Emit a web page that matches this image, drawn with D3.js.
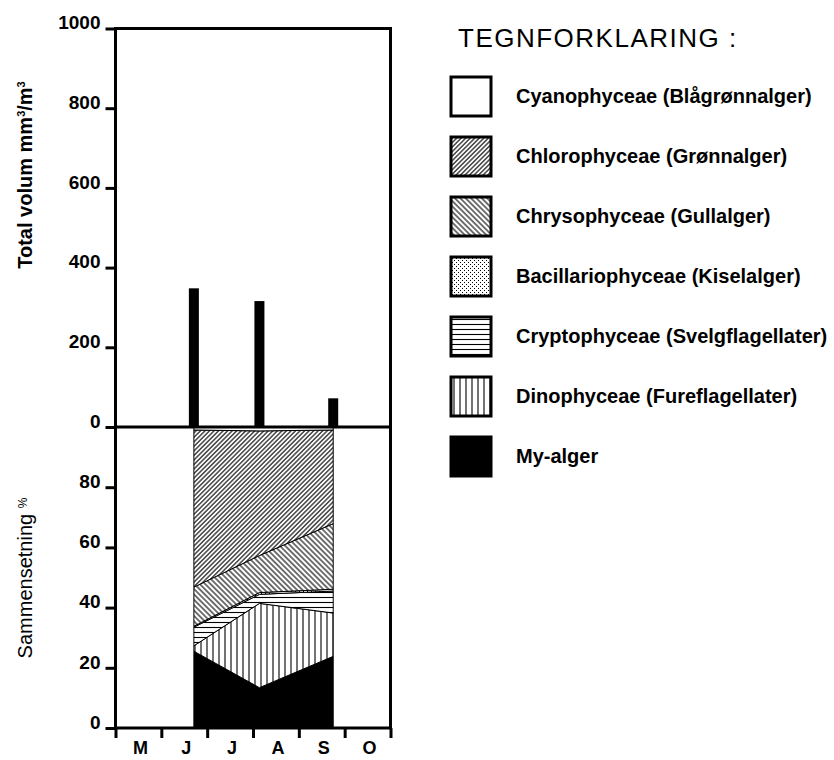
<!DOCTYPE html>
<html>
<head>
<meta charset="utf-8">
<script src="https://cdn.jsdelivr.net/npm/d3@7"></script>
<style>
  body { margin: 0; background: #fff; }
  svg { font-family: 'Liberation Sans', Arial, sans-serif; }
</style>
</head>
<body>
<svg id="chart" width="834" height="760"></svg>
<script>
// months on the x axis (May - Oct)
const months = ['M', 'J', 'J', 'A', 'S', 'O'];
// sample dates as months since 1 May
const sampleMonth = [1.71, 3.14, 4.75];
// total volume mm3/m3
const totalVolume = [348, 316, 72];
const volTicks = [0, 200, 400, 600, 800, 1000];
const pctTicks = [0, 20, 40, 60, 80];

// composition in %, bottom to top
const myAlger = [25.5, 13.4, 23.8];
const dino = [1.8, 28.0, 14.4];
const crypto = [6.2, 3.0, 7.3];
const bacil = [0.3, 0.6, 0.6];
const chryso = [13.0, 12.3, 21.8];
const chloro = [52.2, 41.4, 31.1];
const cyano = [1.0, 1.3, 1.0];

const legendLabels = [
  'Cyanophyceae (Blågrønnalger)',
  'Chlorophyceae (Grønnalger)',
  'Chrysophyceae (Gullalger)',
  'Bacillariophyceae (Kiselalger)',
  'Cryptophyceae (Svelgflagellater)',
  'Dinophyceae (Fureflagellater)',
  'My-alger'
];
const legendFills = ['#fff', 'url(#p-chloro)', 'url(#p-chryso)', 'url(#p-bacil)', 'url(#p-crypto)', 'url(#p-dino)', '#000'];

const keys = ['my', 'dino', 'crypto', 'bacil', 'chryso', 'chloro', 'cyano'];
const fills = {
  my: '#000', dino: 'url(#p-dino)', crypto: 'url(#p-crypto)', bacil: 'url(#p-bacil)',
  chryso: 'url(#p-chryso)', chloro: 'url(#p-chloro)', cyano: '#fff'
};
const rows = sampleMonth.map((m, i) => ({
  m, my: myAlger[i], dino: dino[i], crypto: crypto[i], bacil: bacil[i],
  chryso: chryso[i], chloro: chloro[i], cyano: cyano[i]
}));

const svg = d3.select('#chart');

// hatch patterns
const defs = svg.append('defs');
const hatch = (id, size, angle, horizontal) => {
  const p = defs.append('pattern')
    .attr('id', id)
    .attr('patternUnits', 'userSpaceOnUse')
    .attr('width', size)
    .attr('height', size)
    .attr('patternTransform', `rotate(${angle})`);
  p.append('rect').attr('width', size).attr('height', size).attr('fill', '#fff');
  if (horizontal) {
    p.append('line').attr('x1', 0).attr('x2', size).attr('y1', size / 2).attr('y2', size / 2)
      .attr('stroke', '#000').attr('stroke-width', 1.1);
  } else {
    p.append('line').attr('x1', size / 2).attr('x2', size / 2).attr('y1', 0).attr('y2', size)
      .attr('stroke', '#000').attr('stroke-width', 1.1);
  }
};
hatch('p-chloro', 3.2, 45, false);
hatch('p-chryso', 3.8, -45, false);
hatch('p-crypto', 5, 0, true);
hatch('p-dino', 6, 0, false);
const dots = defs.append('pattern')
  .attr('id', 'p-bacil')
  .attr('patternUnits', 'userSpaceOnUse')
  .attr('width', 4)
  .attr('height', 4);
dots.append('rect').attr('width', 4).attr('height', 4).attr('fill', '#fff');
dots.append('rect').attr('x', 1).attr('y', 1).attr('width', 1).attr('height', 1).attr('fill', '#000');
dots.append('rect').attr('x', 3).attr('y', 3).attr('width', 1).attr('height', 1).attr('fill', '#000');

// scales
const x = d3.scaleLinear().domain([0, 6]).range([115.5, 390.5]);
const yVol = d3.scaleLinear().domain([0, 1000]).range([427, 28.5]);
const yPct = d3.scaleLinear().domain([0, 100]).range([728, 427]);

// stacked composition
const stack = d3.stack().keys(keys)(rows);
const area = d3.area()
  .x((d) => x(d.data.m))
  .y0((d) => yPct(d[0]))
  .y1((d) => yPct(d[1]));

svg.append('g')
  .selectAll('path')
  .data(stack)
  .enter()
  .append('path')
  .attr('d', area)
  .attr('fill', (d) => fills[d.key])
  .attr('stroke', '#000')
  .attr('stroke-width', 1);

// volume bars
svg.append('g')
  .selectAll('rect')
  .data(totalVolume)
  .enter()
  .append('rect')
  .attr('x', (_, i) => x(sampleMonth[i]) - 5)
  .attr('y', (d) => yVol(d))
  .attr('width', 10)
  .attr('height', (d) => yVol(0) - yVol(d))
  .attr('fill', '#000');

// frame
svg.append('rect')
  .attr('x', x(0)).attr('y', yVol(1000))
  .attr('width', x(6) - x(0)).attr('height', yPct(0) - yVol(1000))
  .attr('fill', 'none').attr('stroke', '#000').attr('stroke-width', 3);
svg.append('line')
  .attr('x1', x(0)).attr('x2', x(6)).attr('y1', yVol(0)).attr('y2', yVol(0))
  .attr('stroke', '#000').attr('stroke-width', 3);

// y axes
const styleAxis = (g) => {
  g.select('path.domain').remove();
  g.selectAll('line').attr('stroke', '#000').attr('stroke-width', 3);
  g.selectAll('text')
    .attr('fill', '#000')
    .attr('dy', '0.02em')
    .style('font-size', '19px')
    .style('font-weight', 'bold');
};
svg.append('g')
  .attr('transform', `translate(${x(0)},0)`)
  .call(d3.axisLeft(yVol).tickValues(volTicks).tickSize(10).tickPadding(5).tickFormat(d3.format('d')))
  .call(styleAxis);
svg.append('g')
  .attr('transform', `translate(${x(0)},0)`)
  .call(d3.axisLeft(yPct).tickValues(pctTicks).tickSize(10).tickPadding(5))
  .call(styleAxis);

// x axis: month boundaries, labels in between
const xAxis = svg.append('g')
  .attr('transform', `translate(0,${yPct(0)})`)
  .call(d3.axisBottom(x).tickValues(d3.range(7)).tickSize(10).tickFormat(''));
xAxis.select('path.domain').remove();
xAxis.selectAll('line').attr('stroke', '#000').attr('stroke-width', 3);

svg.append('g')
  .selectAll('text')
  .data(months)
  .enter()
  .append('text')
  .attr('x', (_, i) => x(i + 0.5) + 2)
  .attr('y', 754)
  .attr('text-anchor', 'middle')
  .style('font-size', '18px')
  .style('font-weight', 'bold')
  .text((d) => d);

// axis titles
const t1 = svg.append('text')
  .attr('transform', 'translate(32,175) rotate(-90)')
  .attr('text-anchor', 'middle')
  .style('font-size', '20px')
  .style('font-weight', 'bold');
t1.append('tspan').text('Total volum mm');
t1.append('tspan').attr('dy', -7).style('font-size', '11px').text('3');
t1.append('tspan').attr('dy', 7).text('/m');
t1.append('tspan').attr('dy', -7).style('font-size', '11px').text('3');

const t2 = svg.append('text')
  .attr('transform', 'translate(32,578) rotate(-90)')
  .attr('text-anchor', 'middle')
  .style('font-size', '20px');
t2.append('tspan').text('Sammensetning ');
t2.append('tspan').attr('dy', -5).style('font-size', '12px').text('%');

// legend
svg.append('text')
  .attr('x', 458)
  .attr('y', 47)
  .style('font-size', '26px')
  .style('letter-spacing', '1.5px')
  .text('TEGNFORKLARING :');

const legend = svg.append('g')
  .selectAll('g')
  .data(legendLabels)
  .enter()
  .append('g')
  .attr('transform', (_, i) => `translate(451,${77 + i * 60})`);
legend.append('rect')
  .attr('width', 40)
  .attr('height', 39)
  .attr('fill', (_, i) => legendFills[i])
  .attr('stroke', '#000')
  .attr('stroke-width', 3);
legend.append('text')
  .attr('x', 65)
  .attr('y', 26)
  .style('font-size', '20px')
  .style('font-weight', 'bold')
  .text((d) => d);
</script>
</body>
</html>
